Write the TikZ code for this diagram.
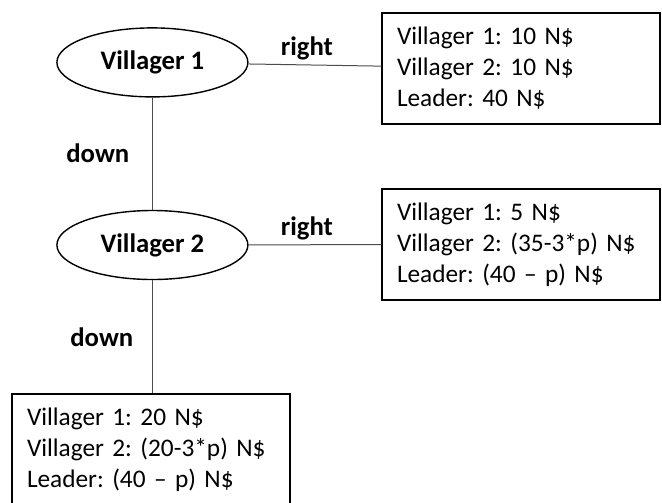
\documentclass[tikz,border=0pt]{standalone}
\usepackage{fontspec}
\setmainfont{Carlito}
\frenchspacing
\usetikzlibrary{positioning,shapes.geometric}

\tikzset{
	player/.style={ellipse,draw,line width=0.35mm,minimum width=47.75mm,minimum height=17.25mm,inner sep=0pt,font=\fontsize{19}{22}\selectfont\bfseries},
	payoff/.style={rectangle,draw,line width=0.35mm,minimum height=27.75mm,inner xsep=3.75mm,text width=62mm,align=left,font=\fontsize{18}{22}\selectfont},
	move/.style={draw=black!70,line width=0.25mm},
	movelabel/.style={font=\fontsize{19}{22}\selectfont\bfseries}
}

\begin{document}
\begin{tikzpicture}

\useasboundingbox (0mm,0mm) rectangle (165.5mm,-125.5mm);

\node[player] (villager1) at (38.1mm,-15.6mm) {Villager 1};
\node[player] (villager2) at (38.1mm,-61.25mm) {Villager 2};

\node[payoff] (outcome1) at (130.25mm,-17.1mm) {Villager 1: 10 N\$\\Villager 2: 10 N\$\\Leader: 40 N\$};
\node[payoff] (outcome2) at (130.25mm,-61.1mm) {Villager 1: 5 N\$\\Villager 2: (35-3*p) N\$\\Leader: (40 – p) N\$};
\node[payoff] (outcome3) at (37.75mm,-112.4mm) {Villager 1: 20 N\$\\Villager 2: (20-3*p) N\$\\Leader: (40 – p) N\$};

% moves of villager 1
\draw[move] (villager1) -- node[movelabel,above,xshift=-2mm] {right} (outcome1);
\draw[move] (villager1) -- node[movelabel,left=4.5mm] {down} (villager2);

% moves of villager 2
\draw[move] (villager2) -- node[movelabel,above,xshift=-2mm] {right} (outcome2);
\draw[move] (villager2.south) -- node[movelabel,left=3.5mm] {down} (villager2.south |- outcome3.north);

\end{tikzpicture}
\end{document}
